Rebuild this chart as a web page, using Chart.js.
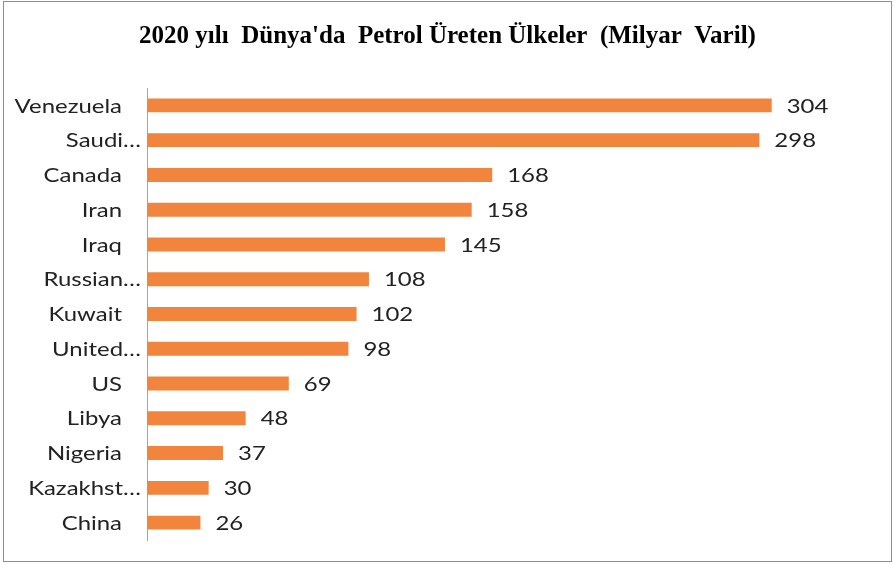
<!doctype html>
<html>
<head>
	<title>Petrol Üreten Ülkeler</title>
	<script src="https://cdn.jsdelivr.net/npm/chart.js@4/dist/chart.umd.min.js"></script>
	<style>
		body { margin: 0; background: #fff; }
		#holder { position: relative; width: 895px; height: 565px; }
		#frame { position: absolute; left: 3px; top: 1px; width: 887px; height: 559px; border: 1px solid #8c8c8c; pointer-events: none; }
	</style>
</head>
<body>
	<div id="holder">
		<canvas id="chart-area" width="895" height="565"></canvas>
		<div id="frame"></div>
	</div>
	<script>
		var countries = ['Venezuela', 'Saudi…', 'Canada', 'Iran', 'Iraq', 'Russian…', 'Kuwait', 'United…', 'US', 'Libya', 'Nigeria', 'Kazakhst…', 'China'];
		var reserves = [304, 298, 168, 158, 145, 108, 102, 98, 69, 48, 37, 30, 26];
		var titleText = "2020 yılı  Dünya'da  Petrol Üreten Ülkeler  (Milyar  Varil)";

		var labelFont = '19px Lato';
		var stretch = 1.26; // the original text is drawn wide

		function wideText(ctx, text, x, y, align) {
			ctx.save();
			ctx.translate(x, y);
			ctx.scale(stretch, 1);
			ctx.textAlign = align;
			ctx.fillText(text, 0, 0);
			ctx.restore();
		}

		// category names and value labels
		var wideLabels = {
			id: 'wideLabels',
			afterDatasetsDraw: function (chart) {
				var ctx = chart.ctx;
				var meta = chart.getDatasetMeta(0);
				var yScale = chart.scales.y;
				ctx.save();
				ctx.font = labelFont;
				ctx.fillStyle = '#222';
				ctx.textBaseline = 'middle';
				chart.data.labels.forEach(function (name, i) {
					var y = yScale.getPixelForTick(i) + 1;
					var right = name.endsWith('…') ? yScale.right - 6 : yScale.right - 25;
					wideText(ctx, name, right, y, 'right');
				});
				meta.data.forEach(function (bar, i) {
					wideText(ctx, String(chart.data.datasets[0].data[i]), bar.x + 15, bar.y + 1, 'left');
				});
				ctx.restore();
			}
		};

		var config = {
			type: 'bar',
			data: {
				labels: countries,
				datasets: [{
					data: reserves,
					backgroundColor: '#F1853E',
					barPercentage: 0.8,
					categoryPercentage: 0.5
				}]
			},
			options: {
				indexAxis: 'y',
				responsive: false,
				animation: false,
				layout: { padding: { top: 0, bottom: 25, left: 0, right: 0 } },
				plugins: {
					legend: { display: false },
					tooltip: { enabled: false },
					title: {
						display: true,
						text: titleText,
						color: '#000',
						font: { family: 'Liberation Serif', size: 25, weight: 'bold', lineHeight: 1.2 },
						padding: { top: 22, bottom: 36 }
					}
				},
				scales: {
					x: { display: false, min: 0, max: 364 },
					y: {
						grid: { display: false },
						border: { display: true, color: '#a6a6a6' },
						ticks: { display: false },
						afterFit: function (scale) { scale.width = 147; }
					}
				}
			},
			plugins: [wideLabels]
		};

		window.onload = function () {
			var ctx = document.getElementById('chart-area').getContext('2d');
			window.myBar = new Chart(ctx, config);
		};
	</script>
</body>
</html>
